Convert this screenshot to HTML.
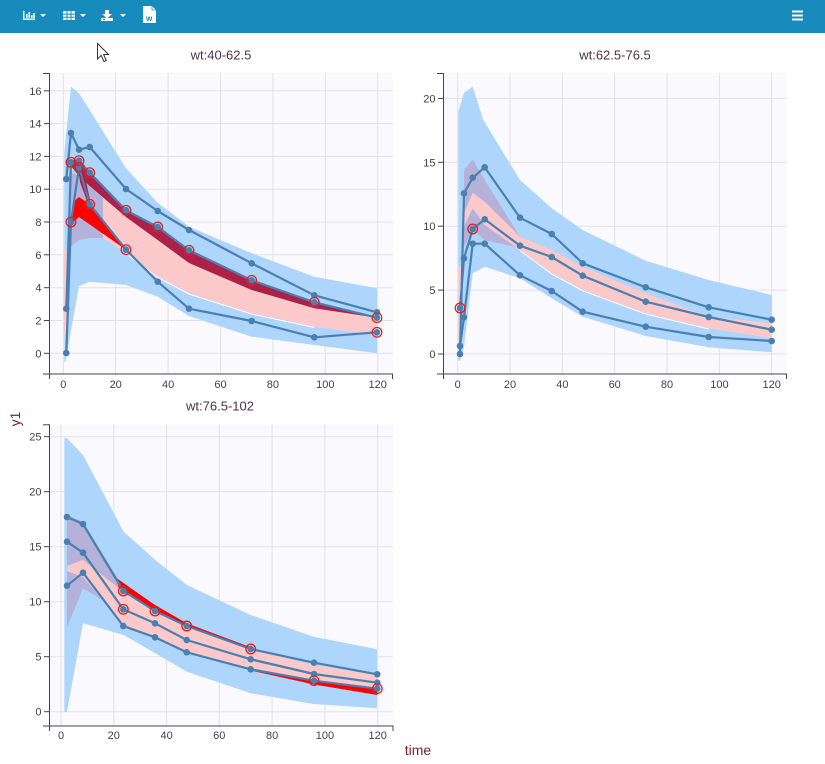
<!DOCTYPE html>
<html><head><meta charset="utf-8"><style>
html,body{margin:0;padding:0;background:#fff;}
svg{display:block;font-family:"Liberation Sans",sans-serif;}
</style></head><body>
<svg width="825" height="764" viewBox="0 0 825 764" xmlns="http://www.w3.org/2000/svg">
<!-- toolbar -->
<rect x="0" y="0" width="825" height="33" fill="#178bbb"/>
<g fill="#fff" stroke="none">
  <!-- chart icon -->
  <rect x="23" y="11" width="1.5" height="9"/><rect x="23" y="18.5" width="12" height="1.5"/>
  <rect x="26" y="14" width="1.6" height="4"/><rect x="28.5" y="12" width="1.6" height="6"/><rect x="31" y="15" width="1.6" height="3"/><rect x="33.3" y="13" width="1.6" height="5"/>
  <polygon points="40,14 46,14 43,17"/>
  <!-- grid icon -->
  <rect x="63" y="11" width="12" height="9"/>
  <polygon points="80,14 86,14 83,17"/>
  <!-- download -->
  <polygon points="105,10 109,10 109,14 112,14 107,18.5 102,14 105,14"/>
  <rect x="101" y="18" width="12" height="3"/>
  <polygon points="120,14 126,14 123,17"/>
  <!-- word doc -->
  <polygon points="143,6 152,6 156,10 156,23 143,23"/>
  <!-- hamburger -->
  <rect x="792" y="10.5" width="11" height="2"/><rect x="792" y="14.5" width="11" height="2"/><rect x="792" y="18.5" width="11" height="2"/>
</g>
<g stroke="#178bbb" stroke-width="1">
  <line x1="63" y1="14.2" x2="75" y2="14.2"/><line x1="63" y1="17.2" x2="75" y2="17.2"/>
  <line x1="67" y1="11" x2="67" y2="20"/><line x1="71" y1="11" x2="71" y2="20"/>
</g>
<polyline points="152,6 152,10 156,10" fill="none" stroke="#178bbb" stroke-width="0.8"/>
<text x="146" y="21" font-size="8" font-weight="bold" fill="#178bbb">w</text>
<rect x="103" y="19" width="2" height="1" fill="#178bbb"/>

<!-- cursor -->
<polygon points="97.5,43.5 97.5,59 101.2,55.4 104,61.6 106.3,60.6 103.6,54.5 108.6,54.5" fill="#fff" stroke="#333" stroke-width="1"/>

<!-- titles -->
<text x="221" y="59.5" font-size="13" text-anchor="middle" fill="#4a3545">wt:40-62.5</text>
<text x="615" y="59.5" font-size="13" text-anchor="middle" fill="#4a3545">wt:62.5-76.5</text>
<text x="220" y="410.5" font-size="13" text-anchor="middle" fill="#4a3545">wt:76.5-102</text>
<text transform="translate(20,419) rotate(-90)" font-size="14" text-anchor="middle" fill="#7a1f2b">y1</text>
<text x="418" y="755" font-size="14" text-anchor="middle" fill="#7a1f2b">time</text>

<!-- ================= PANEL 1 ================= -->
<rect x="49.5" y="73" width="343.5" height="301" fill="#fafafe"/>
<g stroke="#e1e1e7" stroke-width="1">
  <line x1="63.3" y1="73" x2="63.3" y2="374"/><line x1="115.7" y1="73" x2="115.7" y2="374"/><line x1="168.1" y1="73" x2="168.1" y2="374"/><line x1="220.5" y1="73" x2="220.5" y2="374"/><line x1="272.9" y1="73" x2="272.9" y2="374"/><line x1="325.3" y1="73" x2="325.3" y2="374"/><line x1="377.7" y1="73" x2="377.7" y2="374"/>
  <line x1="49.5" y1="353.3" x2="393" y2="353.3"/><line x1="49.5" y1="320.5" x2="393" y2="320.5"/><line x1="49.5" y1="287.7" x2="393" y2="287.7"/><line x1="49.5" y1="254.8" x2="393" y2="254.8"/><line x1="49.5" y1="222" x2="393" y2="222"/><line x1="49.5" y1="189.2" x2="393" y2="189.2"/><line x1="49.5" y1="156.4" x2="393" y2="156.4"/><line x1="49.5" y1="123.6" x2="393" y2="123.6"/><line x1="49.5" y1="90.8" x2="393" y2="90.8"/>
</g>
<polygon fill="#aed5fb" points="64.3,151.7 71,86.7 79,93.3 89.7,110 126,168.3 157.7,202.7 189,226.7 251.7,253.3 314.3,276.7 377,288.3 377,353.3 314.3,345 251.7,336.7 189,316 157.7,296.7 126,285 89.7,281.7 79,286 71,331 65.7,361.7 64.3,361.7"/>
<polygon fill="#fcc9ca" points="63.8,250 66.6,250 66.6,337 63.8,337"/>
<polygon fill="#b6b1d9" points="69,172 79,176 89.7,186 105,200 105,238 89.7,238 79,240 69,248"/>
<polygon fill="#fcc9ca" points="103,198 126,217 157.7,240 189,263 251.7,290 314.3,308.3 377,317.7 377,335 314.3,326.7 251.7,313.3 189,293.3 157.7,276.7 126,252.7 103,238"/>
<polyline fill="none" stroke="#fff" stroke-width="1" points="126,253.5 157.7,277.5 189,294 251.7,314 314.3,327.5"/>
<polygon fill="#ad2048" points="71,162.3 79,160.7 89.7,172.7 126,210.3 157.7,227 189,250.3 251.7,280.3 314.3,302.3 377,317.7 314.3,308.3 251.7,290 189,263 157.7,240 126,217 89.7,186 79,176 71,166"/>
<polygon fill="#ad2048" points="78,166 84,172 90,200 88,204 80,182"/>
<polygon fill="#ff0000" points="71,222 73,202 79,197 89.7,204.3 126,249.7 79,217 71,224"/>
<g fill="none" stroke="#4a7fb2" stroke-width="2.2" stroke-linejoin="round">
  <polyline points="66.3,179 71,133 79,149.7 89.7,147 126,189 157.7,211 189,230 251.7,263.3 314.3,295.3 377,312.3"/>
  <polyline points="66.3,308.7 71,162.3 79,160.7 89.7,172.7 126,210.3 157.7,227 189,250.3 251.7,280.3 314.3,302.3 377,317.7"/>
  <polyline points="66.3,353 71,222 79,167.3 89.7,204.3 126,249.7 157.7,281.7 189,308.7 251.7,321 314.3,337.3 377,332.3"/>
</g>
<g fill="#4a7fb2">
  <circle cx="66.3" cy="179" r="3.3"/><circle cx="71" cy="133" r="3.3"/><circle cx="79" cy="149.7" r="3.3"/><circle cx="89.7" cy="147" r="3.3"/><circle cx="126" cy="189" r="3.3"/><circle cx="157.7" cy="211" r="3.3"/><circle cx="189" cy="230" r="3.3"/><circle cx="251.7" cy="263.3" r="3.3"/><circle cx="314.3" cy="295.3" r="3.3"/><circle cx="377" cy="312.3" r="3.3"/>
  <circle cx="66.3" cy="308.7" r="3.3"/><circle cx="71" cy="162.3" r="3.3"/><circle cx="79" cy="160.7" r="3.3"/><circle cx="89.7" cy="172.7" r="3.3"/><circle cx="126" cy="210.3" r="3.3"/><circle cx="157.7" cy="227" r="3.3"/><circle cx="189" cy="250.3" r="3.3"/><circle cx="251.7" cy="280.3" r="3.3"/><circle cx="314.3" cy="302.3" r="3.3"/><circle cx="377" cy="317.7" r="3.3"/>
  <circle cx="66.3" cy="353" r="3.3"/><circle cx="71" cy="222" r="3.3"/><circle cx="79" cy="167.3" r="3.3"/><circle cx="89.7" cy="204.3" r="3.3"/><circle cx="126" cy="249.7" r="3.3"/><circle cx="157.7" cy="281.7" r="3.3"/><circle cx="189" cy="308.7" r="3.3"/><circle cx="251.7" cy="321" r="3.3"/><circle cx="314.3" cy="337.3" r="3.3"/><circle cx="377" cy="332.3" r="3.3"/>
</g>
<g fill="none" stroke="#e3201e" stroke-width="1.3">
  <circle cx="71" cy="162.3" r="4.8"/><circle cx="79" cy="160.7" r="4.8"/><circle cx="89.7" cy="172.7" r="4.8"/><circle cx="126" cy="210.3" r="4.8"/><circle cx="157.7" cy="227" r="4.8"/><circle cx="189" cy="250.3" r="4.8"/><circle cx="251.7" cy="280.3" r="4.8"/><circle cx="314.3" cy="302.3" r="4.8"/><circle cx="377" cy="317.7" r="4.8"/>
  <circle cx="71" cy="222" r="4.8"/><circle cx="79" cy="167.3" r="4.8"/><circle cx="89.7" cy="204.3" r="4.8"/><circle cx="126" cy="249.7" r="4.8"/><circle cx="377" cy="332.3" r="4.8"/>
</g>
<g stroke="#444" stroke-width="1" fill="none">
  <line x1="49.5" y1="73" x2="49.5" y2="374"/><line x1="43" y1="73.5" x2="49.5" y2="73.5"/>
  <line x1="43" y1="374" x2="393" y2="374"/><line x1="49.5" y1="374" x2="49.5" y2="379"/><line x1="392.5" y1="374" x2="392.5" y2="379"/>
  <line x1="44" y1="353.3" x2="49.5" y2="353.3"/><line x1="44" y1="320.5" x2="49.5" y2="320.5"/><line x1="44" y1="287.7" x2="49.5" y2="287.7"/><line x1="44" y1="254.8" x2="49.5" y2="254.8"/><line x1="44" y1="222" x2="49.5" y2="222"/><line x1="44" y1="189.2" x2="49.5" y2="189.2"/><line x1="44" y1="156.4" x2="49.5" y2="156.4"/><line x1="44" y1="123.6" x2="49.5" y2="123.6"/><line x1="44" y1="90.8" x2="49.5" y2="90.8"/>
</g>
<g font-size="11" fill="#444" text-anchor="end">
  <text x="41.5" y="357.3">0</text><text x="41.5" y="324.5">2</text><text x="41.5" y="291.7">4</text><text x="41.5" y="258.8">6</text><text x="41.5" y="226">8</text><text x="41.5" y="193.2">10</text><text x="41.5" y="160.4">12</text><text x="41.5" y="127.6">14</text><text x="41.5" y="94.8">16</text>
</g>
<g font-size="11" fill="#444" text-anchor="middle">
  <text x="63.3" y="388">0</text><text x="115.7" y="388">20</text><text x="168.1" y="388">40</text><text x="220.5" y="388">60</text><text x="272.9" y="388">80</text><text x="325.3" y="388">100</text><text x="377.7" y="388">120</text>
</g>

<!-- ================= PANEL 2 ================= -->
<rect x="443.3" y="73" width="343.4" height="301" fill="#fafafe"/>
<g stroke="#e1e1e7" stroke-width="1">
  <line x1="457.7" y1="73" x2="457.7" y2="374"/><line x1="510" y1="73" x2="510" y2="374"/><line x1="562.4" y1="73" x2="562.4" y2="374"/><line x1="614.7" y1="73" x2="614.7" y2="374"/><line x1="667" y1="73" x2="667" y2="374"/><line x1="719.4" y1="73" x2="719.4" y2="374"/><line x1="771.7" y1="73" x2="771.7" y2="374"/>
  <line x1="443.3" y1="354" x2="786.7" y2="354"/><line x1="443.3" y1="290.1" x2="786.7" y2="290.1"/><line x1="443.3" y1="226.2" x2="786.7" y2="226.2"/><line x1="443.3" y1="162.3" x2="786.7" y2="162.3"/><line x1="443.3" y1="98.4" x2="786.7" y2="98.4"/>
</g>
<polygon fill="#aed5fb" points="458.3,111.7 464,92.7 472.7,86.7 483.3,120 520,180 551.7,208.3 582.7,230 645.7,260.7 708.7,280 771.7,295 771.7,352.3 708.7,347.3 645.7,336 582.7,316.7 551.7,298.3 520,278.3 484.7,266.7 472.7,273.3 464,346.7 460,360.7 458.3,360.7"/>
<polygon fill="#fcc9ca" points="458.3,266.7 461,266.7 461,340 458.3,340"/>
<polygon fill="#b6b1d9" points="464,170 472.7,159.3 484.7,180 520,236.7 520,248 484.7,240 472.7,230 464,246.7"/>
<polygon fill="#fcc9ca" points="464,213.3 472.7,192.7 484.7,201.7 520,236.7 551.7,250 582.7,266.7 645.7,293.3 708.7,316.7 771.7,323.3 771.7,338.3 708.7,328.3 645.7,313.3 582.7,290 551.7,273.3 520,250 484.7,225 472.7,208.3 464,226.7"/>
<polyline fill="none" stroke="#fff" stroke-width="1" points="520,250.5 551.7,274 582.7,290.8 645.7,314 708.7,329"/>
<g fill="none" stroke="#4a7fb2" stroke-width="2.2" stroke-linejoin="round">
  <polyline points="460,354 464,193.3 472.7,177.7 484.7,167.3 520,217.7 551.7,234 582.7,263.3 645.7,287.3 708.7,307.3 771.7,319.7"/>
  <polyline points="460,308 464,258.3 472.7,229 484.7,219.3 520,245.7 551.7,257 582.7,275.7 645.7,301.7 708.7,317 771.7,329.7"/>
  <polyline points="460,346 464,317.3 472.7,243.7 484.7,243.7 520,275.3 551.7,291 582.7,311.7 645.7,326.7 708.7,337 771.7,341"/>
</g>
<g fill="#4a7fb2">
  <circle cx="460" cy="354" r="3.3"/><circle cx="464" cy="193.3" r="3.3"/><circle cx="472.7" cy="177.7" r="3.3"/><circle cx="484.7" cy="167.3" r="3.3"/><circle cx="520" cy="217.7" r="3.3"/><circle cx="551.7" cy="234" r="3.3"/><circle cx="582.7" cy="263.3" r="3.3"/><circle cx="645.7" cy="287.3" r="3.3"/><circle cx="708.7" cy="307.3" r="3.3"/><circle cx="771.7" cy="319.7" r="3.3"/>
  <circle cx="460" cy="308" r="3.3"/><circle cx="464" cy="258.3" r="3.3"/><circle cx="472.7" cy="229" r="3.3"/><circle cx="484.7" cy="219.3" r="3.3"/><circle cx="520" cy="245.7" r="3.3"/><circle cx="551.7" cy="257" r="3.3"/><circle cx="582.7" cy="275.7" r="3.3"/><circle cx="645.7" cy="301.7" r="3.3"/><circle cx="708.7" cy="317" r="3.3"/><circle cx="771.7" cy="329.7" r="3.3"/>
  <circle cx="460" cy="346" r="3.3"/><circle cx="464" cy="317.3" r="3.3"/><circle cx="472.7" cy="243.7" r="3.3"/><circle cx="484.7" cy="243.7" r="3.3"/><circle cx="520" cy="275.3" r="3.3"/><circle cx="551.7" cy="291" r="3.3"/><circle cx="582.7" cy="311.7" r="3.3"/><circle cx="645.7" cy="326.7" r="3.3"/><circle cx="708.7" cy="337" r="3.3"/><circle cx="771.7" cy="341" r="3.3"/>
</g>
<g fill="none" stroke="#e3201e" stroke-width="1.3">
  <circle cx="460" cy="308" r="4.8"/><circle cx="472.7" cy="229" r="4.8"/>
</g>
<g stroke="#444" stroke-width="1" fill="none">
  <line x1="443.5" y1="73" x2="443.5" y2="374"/><line x1="437" y1="73.5" x2="443.5" y2="73.5"/>
  <line x1="437" y1="374" x2="787" y2="374"/><line x1="443.5" y1="374" x2="443.5" y2="379"/><line x1="786.5" y1="374" x2="786.5" y2="379"/>
  <line x1="438" y1="354" x2="443.5" y2="354"/><line x1="438" y1="290.1" x2="443.5" y2="290.1"/><line x1="438" y1="226.2" x2="443.5" y2="226.2"/><line x1="438" y1="162.3" x2="443.5" y2="162.3"/><line x1="438" y1="98.4" x2="443.5" y2="98.4"/>
</g>
<g font-size="11" fill="#444" text-anchor="end">
  <text x="435.5" y="358">0</text><text x="435.5" y="294.1">5</text><text x="435.5" y="230.2">10</text><text x="435.5" y="166.3">15</text><text x="435.5" y="102.4">20</text>
</g>
<g font-size="11" fill="#444" text-anchor="middle">
  <text x="457.7" y="388">0</text><text x="510" y="388">20</text><text x="562.4" y="388">40</text><text x="614.7" y="388">60</text><text x="667" y="388">80</text><text x="719.4" y="388">100</text><text x="771.7" y="388">120</text>
</g>

<!-- ================= PANEL 3 ================= -->
<rect x="49.5" y="424.3" width="343.8" height="301.7" fill="#fafafe"/>
<g stroke="#e1e1e7" stroke-width="1">
  <line x1="61" y1="424.3" x2="61" y2="726"/><line x1="113.8" y1="424.3" x2="113.8" y2="726"/><line x1="166.6" y1="424.3" x2="166.6" y2="726"/><line x1="219.3" y1="424.3" x2="219.3" y2="726"/><line x1="272.1" y1="424.3" x2="272.1" y2="726"/><line x1="324.9" y1="424.3" x2="324.9" y2="726"/><line x1="377.7" y1="424.3" x2="377.7" y2="726"/>
  <line x1="49.5" y1="711.7" x2="393.3" y2="711.7"/><line x1="49.5" y1="656.7" x2="393.3" y2="656.7"/><line x1="49.5" y1="601.7" x2="393.3" y2="601.7"/><line x1="49.5" y1="546.7" x2="393.3" y2="546.7"/><line x1="49.5" y1="491.7" x2="393.3" y2="491.7"/><line x1="49.5" y1="436.7" x2="393.3" y2="436.7"/>
</g>
<polygon fill="#aed5fb" points="64.3,438.3 67,438.3 83,455 123.7,531.7 155.3,560 187,585 250.7,615 313.7,636.7 377,649.3 377,708.3 313.7,704 250.7,693.3 187,671.7 155.3,653.3 123.7,635 83,623.3 67,711.7 64.3,711.7"/>
<polygon fill="#b6b1d9" points="67,515 83,521.7 123.7,588.3 123.7,613 83,588.3 67,627.3"/>
<polygon fill="#fcc9ca" points="67,566 83,560 123.5,591.7 155,610 186.7,626.7 250.7,649 314,665 377.3,675 377.3,690 314,683.3 250.7,668.3 186.7,653.3 155,638.3 123.5,625 83,577 67,571"/>
<polygon fill="#ff0000" points="116.7,578.3 155,605 186.7,623.3 250.7,647.3 250.7,649.5 186.7,626 155,611 123.3,591 118.3,586.7"/>
<polygon fill="#ff0000" points="250.7,669.3 314,680.7 377.3,688.7 377.3,695 314,684.5 250.7,670.5"/>
<g fill="none" stroke="#4a7fb2" stroke-width="2.2" stroke-linejoin="round">
  <polyline points="67,517 83,524 123.3,591 155,611 186.7,626 250.7,649 314,662.7 377.3,674.3"/>
  <polyline points="67,541.7 83,552.7 123.3,609.3 155,623.3 186.7,640 250.7,659.3 314,674 377.3,682.7"/>
  <polyline points="67,585.7 83,572.7 123.3,626 155,637.3 186.7,652.3 250.7,669.3 314,680.7 377.3,688.7"/>
</g>
<g fill="#4a7fb2">
  <circle cx="67" cy="517" r="3.3"/><circle cx="83" cy="524" r="3.3"/><circle cx="123.3" cy="591" r="3.3"/><circle cx="155" cy="611" r="3.3"/><circle cx="186.7" cy="626" r="3.3"/><circle cx="250.7" cy="649" r="3.3"/><circle cx="314" cy="662.7" r="3.3"/><circle cx="377.3" cy="674.3" r="3.3"/>
  <circle cx="67" cy="541.7" r="3.3"/><circle cx="83" cy="552.7" r="3.3"/><circle cx="123.3" cy="609.3" r="3.3"/><circle cx="155" cy="623.3" r="3.3"/><circle cx="186.7" cy="640" r="3.3"/><circle cx="250.7" cy="659.3" r="3.3"/><circle cx="314" cy="674" r="3.3"/><circle cx="377.3" cy="682.7" r="3.3"/>
  <circle cx="67" cy="585.7" r="3.3"/><circle cx="83" cy="572.7" r="3.3"/><circle cx="123.3" cy="626" r="3.3"/><circle cx="155" cy="637.3" r="3.3"/><circle cx="186.7" cy="652.3" r="3.3"/><circle cx="250.7" cy="669.3" r="3.3"/><circle cx="314" cy="680.7" r="3.3"/><circle cx="377.3" cy="688.7" r="3.3"/>
</g>
<g fill="none" stroke="#e3201e" stroke-width="1.3">
  <circle cx="123.3" cy="591" r="4.8"/><circle cx="155" cy="611" r="4.8"/><circle cx="186.7" cy="626" r="4.8"/><circle cx="250.7" cy="649" r="4.8"/>
  <circle cx="123.3" cy="609.3" r="4.8"/><circle cx="314" cy="680.7" r="4.8"/><circle cx="377.3" cy="688.7" r="4.8"/>
</g>
<g stroke="#444" stroke-width="1" fill="none">
  <line x1="49.5" y1="424.3" x2="49.5" y2="726"/><line x1="43" y1="424.8" x2="49.5" y2="424.8"/>
  <line x1="43" y1="726" x2="393.5" y2="726"/><line x1="49.5" y1="726" x2="49.5" y2="731"/><line x1="393" y1="726" x2="393" y2="731"/>
  <line x1="44" y1="711.7" x2="49.5" y2="711.7"/><line x1="44" y1="656.7" x2="49.5" y2="656.7"/><line x1="44" y1="601.7" x2="49.5" y2="601.7"/><line x1="44" y1="546.7" x2="49.5" y2="546.7"/><line x1="44" y1="491.7" x2="49.5" y2="491.7"/><line x1="44" y1="436.7" x2="49.5" y2="436.7"/>
</g>
<g font-size="11" fill="#444" text-anchor="end">
  <text x="41.5" y="715.7">0</text><text x="41.5" y="660.7">5</text><text x="41.5" y="605.7">10</text><text x="41.5" y="550.7">15</text><text x="41.5" y="495.7">20</text><text x="41.5" y="440.7">25</text>
</g>
<g font-size="11" fill="#444" text-anchor="middle">
  <text x="61" y="739">0</text><text x="113.8" y="739">20</text><text x="166.6" y="739">40</text><text x="219.3" y="739">60</text><text x="272.1" y="739">80</text><text x="324.9" y="739">100</text><text x="377.7" y="739">120</text>
</g>
</svg>
</body></html>
